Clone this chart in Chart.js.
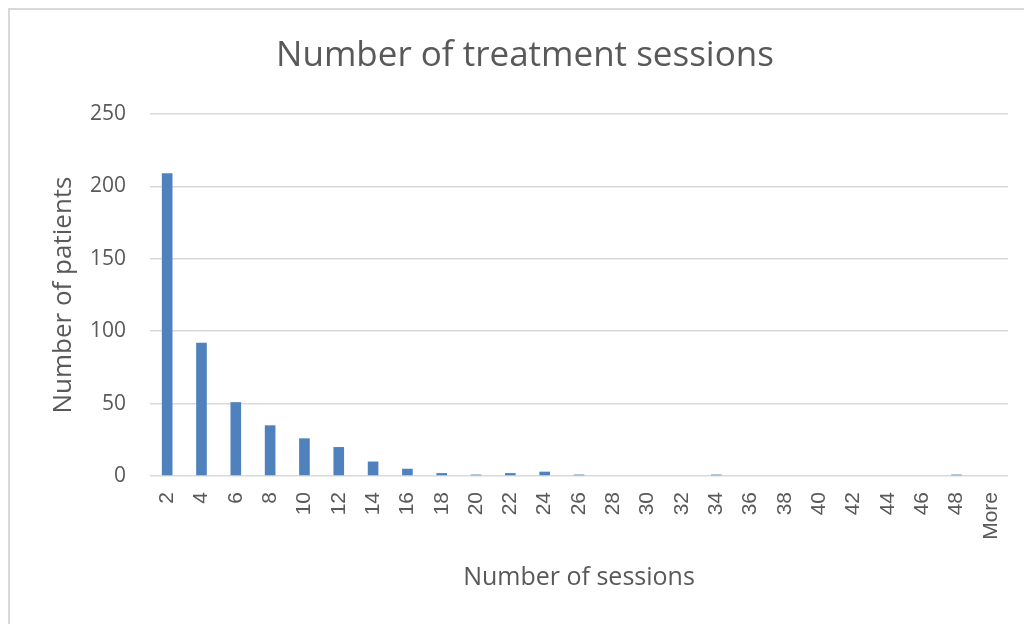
<!DOCTYPE html>
<html>
<head>
<meta charset="utf-8">
<script src="https://cdn.jsdelivr.net/npm/chart.js@4"></script>
<style>
  html, body { margin: 0; padding: 0; background: #ffffff; }
  #wrap { position: relative; width: 1024px; height: 624px; }
</style>
</head>
<body>
<div id="wrap"><canvas id="c" width="1024" height="624"></canvas></div>
<script>
// Session bins (upper bound of each bin) and patient counts per bin
const sessionBins = ['2','4','6','8','10','12','14','16','18','20','22','24','26','28','30','32','34','36','38','40','42','44','46','48','More'];
const patientCounts = [209, 92, 51, 35, 26, 20, 10, 5, 2, 1, 2, 3, 1, 0, 0, 0, 1, 0, 0, 0, 0, 0, 0, 1, 0];
const yTicks = [0, 50, 100, 150, 200, 250];

const chartTitle = 'Number of treatment sessions';
const xTitle = 'Number of sessions';
const yTitle = 'Number of patients';

const TEXT = '#595959';
const GRID = '#d9d9d9';
const BAR = '#4f81bd';

// White background plus a thin frame along the top and left edges
const framePlugin = {
  id: 'frame',
  beforeDraw(chart) {
    const ctx = chart.ctx;
    ctx.save();
    ctx.fillStyle = '#ffffff';
    ctx.fillRect(0, 0, chart.width, chart.height);
    ctx.fillStyle = GRID;
    ctx.fillRect(8, 8, chart.width - 8, 2);
    ctx.fillRect(8, 8, 2, chart.height - 8);
    ctx.restore();
  }
};

// Chart heading, centred over the whole frame
const headingPlugin = {
  id: 'heading',
  afterDraw(chart) {
    const ctx = chart.ctx;
    ctx.save();
    ctx.fillStyle = TEXT;
    ctx.font = '35px "Open Sans"';
    ctx.textAlign = 'center';
    ctx.textBaseline = 'middle';
    ctx.fillText(chartTitle, 525, 56);
    ctx.restore();
  }
};

new Chart(document.getElementById('c'), {
  type: 'bar',
  data: {
    labels: sessionBins,
    datasets: [{
      data: patientCounts,
      backgroundColor: BAR,
      borderWidth: 0,
      barPercentage: 0.31,
      categoryPercentage: 1
    }]
  },
  options: {
    responsive: false,
    animation: false,
    layout: { padding: { left: 0, right: 16, top: 114, bottom: 0 } },
    plugins: {
      legend: { display: false },
      tooltip: { enabled: false },
      title: { display: false }
    },
    scales: {
      x: {
        grid: { display: false, drawTicks: false },
        border: { display: false },
        ticks: {
          color: TEXT,
          font: { family: '"Liberation Sans"', size: 21 },
          minRotation: 90,
          maxRotation: 90,
          autoSkip: false,
          padding: 16
        },
        title: {
          display: true,
          text: xTitle,
          color: TEXT,
          font: { family: '"Open Sans"', size: 25 },
          padding: { top: 0, bottom: 31 }
        },
        afterFit(scale) {
          scale.height = 148;
          scale.paddingLeft = 0;
          scale.paddingRight = 0;
        }
      },
      y: {
        min: 0,
        max: 250,
        afterBuildTicks(scale) { scale.ticks = yTicks.map(v => ({ value: v })); },
        grid: { color: GRID, lineWidth: 1.5, drawTicks: false },
        border: { display: false },
        ticks: {
          color: TEXT,
          font: { family: '"Open Sans"', size: 21 },
          padding: 24
        },
        title: {
          display: true,
          text: yTitle,
          color: TEXT,
          font: { family: '"Open Sans"', size: 26 },
          padding: { top: 48, bottom: 0 }
        },
        afterFit(scale) { scale.width = 150; }
      }
    }
  },
  plugins: [framePlugin, headingPlugin]
});
</script>
</body>
</html>
